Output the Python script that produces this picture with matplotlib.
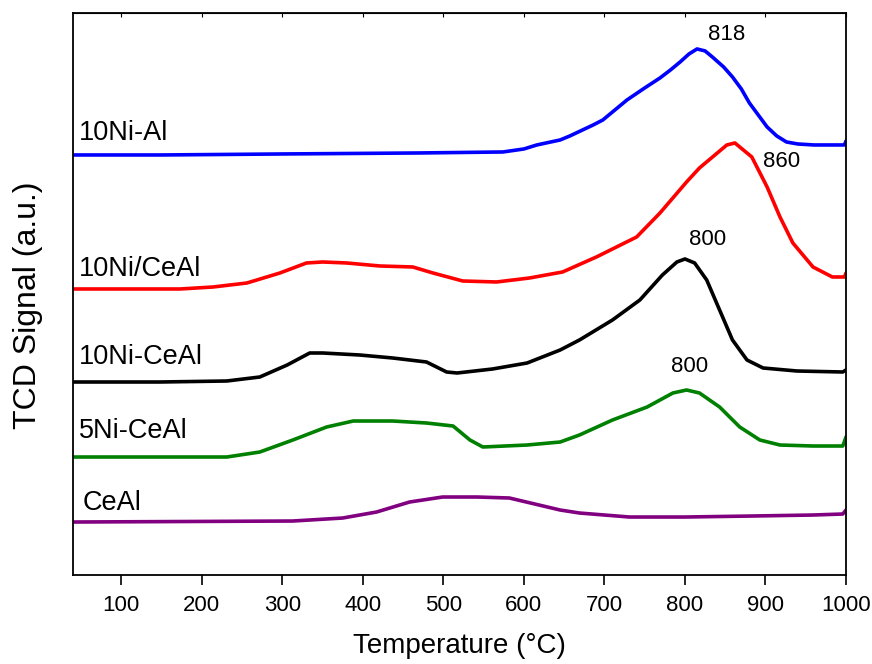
import numpy as np
import matplotlib.pyplot as plt

plt.rcParams['font.family'] = ['Liberation Sans', 'DejaVu Sans']

# temperature (C) and TCD signal (a.u., offset per sample)
t_nial = [40, 150, 300, 470, 574, 600, 616, 645, 657, 686, 698, 728, 750, 769, 782, 794,
          805, 815, 825, 834, 848, 859, 870, 880, 891, 902, 914, 926, 940, 960, 976, 998, 1000]
s_nial = [420, 420, 421, 422, 423, 426, 430, 435, 439, 450, 455, 475, 487, 497, 505, 513,
          521, 526, 524, 518, 508, 498, 486, 472, 460, 448, 439, 433, 431, 430, 430, 430, 434]

t_ni_ceal_imp = [40, 173, 214, 256, 297, 330, 350, 380, 421, 462, 487, 524, 566, 607,
                 648, 690, 740, 769, 802, 818, 852, 862, 883, 902, 918, 934, 959, 983, 998, 1000]
s_ni_ceal_imp = [286, 286, 288, 292, 302, 312, 313, 312, 309, 308, 302, 294, 293, 297,
                 303, 318, 338, 362, 393, 407, 430, 432, 418, 388, 358, 332, 308, 298, 298, 302]

t_ni_ceal = [40, 148, 231, 272, 306, 334, 350, 396, 437, 479, 504, 517, 561, 604, 645,
             669, 710, 744, 772, 790, 800, 812, 827, 843, 859, 877, 897, 939, 996, 1000]
s_ni_ceal = [193, 193, 194, 198, 210, 222, 222, 220, 217, 213, 203, 202, 206, 212, 225,
             235, 255, 275, 300, 313, 316, 312, 295, 265, 235, 215, 207, 204, 203, 205]

t_5ni_ceal = [40, 231, 272, 313, 355, 388, 437, 479, 512, 533, 549, 604, 645, 669, 710,
              753, 785, 802, 818, 843, 868, 893, 918, 959, 996, 1000]
s_5ni_ceal = [118, 118, 123, 135, 148, 154, 154, 152, 149, 135, 128, 130, 133, 140, 155,
              168, 182, 185, 182, 168, 148, 135, 130, 129, 129, 138]

t_ceal = [40, 313, 375, 417, 458, 499, 542, 582, 645, 669, 731, 800, 883, 959, 996, 1000]
s_ceal = [53, 54, 57, 63, 73, 78, 78, 77, 65, 62, 58, 58, 59, 60, 61, 65]

names = ['10Ni-Al', '10Ni/CeAl', '10Ni-CeAl', '5Ni-CeAl', 'CeAl']
colors = ['#0000ff', '#ff0000', '#000000', '#008000', '#800080']
temps = [t_nial, t_ni_ceal_imp, t_ni_ceal, t_5ni_ceal, t_ceal]
signals = [s_nial, s_ni_ceal_imp, s_ni_ceal, s_5ni_ceal, s_ceal]

label_pos = [(47, 442), (47, 306), (47, 218), (48, 144), (52, 72)]
peaks = [('818', 852, 540), ('860', 920, 413), ('800', 828, 335), ('800', 806, 208)]

fig = plt.figure(figsize=(8.72, 6.64), dpi=100)
ax = fig.add_axes([0.0837, 0.134, 0.8865, 0.8465])

for t, s, c in zip(temps, signals, colors):
    ax.plot(t, s, color=c, lw=2.6, solid_joinstyle='round', solid_capstyle='round')

for name, (x, y) in zip(names, label_pos):
    ax.text(x, y, name, fontsize=19.5, va='center', ha='left')

for txt, x, y in peaks:
    ax.text(x, y, txt, fontsize=16, ha='center', va='center')

ax.set_xlim(40, 1000)
ax.set_ylim(0, 562)
ax.set_xticks(np.arange(100, 1001, 100))
ax.set_yticks([])
ax.tick_params(axis='x', direction='out', length=7.5, width=1.2, labelsize=16, pad=7)
for sp in ax.spines.values():
    sp.set_linewidth(1.3)

top = ax.secondary_xaxis('top')
top.set_xticks(np.arange(100, 1001, 100))
top.tick_params(direction='in', length=3, width=0.8, labeltop=False)

ax.set_xlabel('Temperature (°C)', fontsize=20, labelpad=12)
ax.set_ylabel('TCD Signal (a.u.)', fontsize=23)
ax.yaxis.set_label_coords(-0.039, 0.48)

fig.savefig('out.png', dpi=100)
